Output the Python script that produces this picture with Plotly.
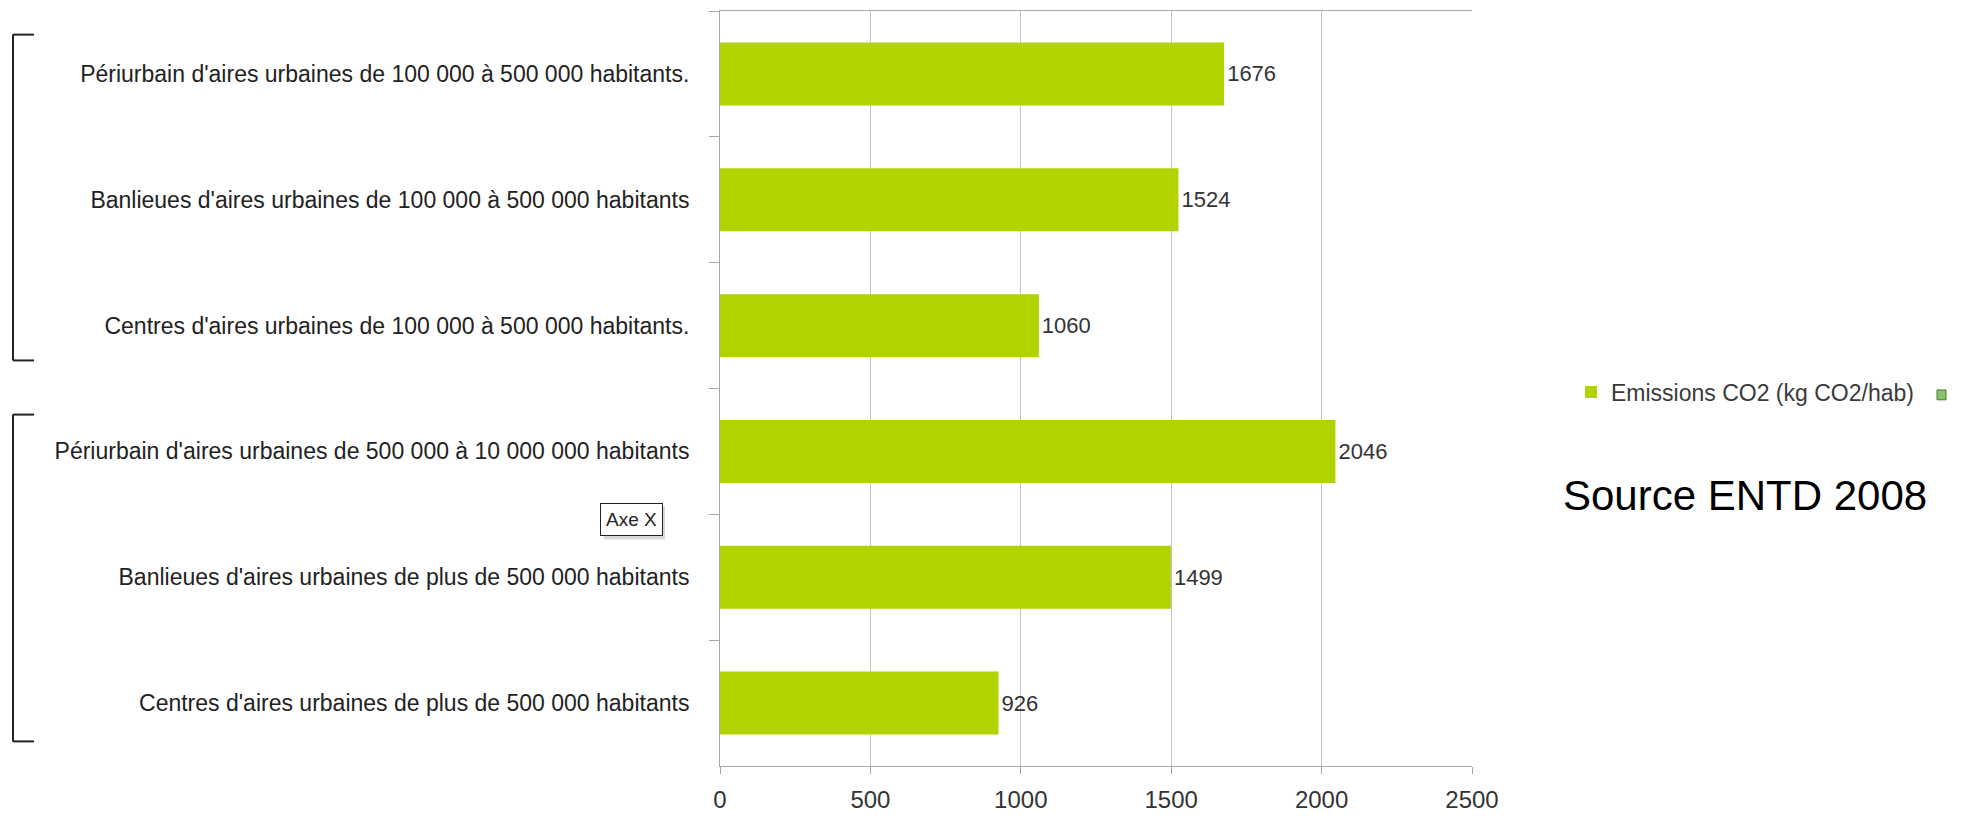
import plotly.graph_objects as go

categories = [
    "Périurbain d'aires urbaines de 100 000 à 500 000 habitants.",
    "Banlieues d'aires urbaines de 100 000 à 500 000 habitants",
    "Centres d'aires urbaines de 100 000 à 500 000 habitants.",
    "Périurbain d'aires urbaines de 500 000 à 10 000 000 habitants",
    "Banlieues d'aires urbaines de plus de 500 000 habitants",
    "Centres d'aires urbaines de plus de 500 000 habitants",
]
emissions = [1676, 1524, 1060, 2046, 1499, 926]
x_ticks = [0, 500, 1000, 1500, 2000, 2500]
series_name = "Emissions CO2 (kg CO2/hab)"
source_text = "Source ENTD 2008"

W, H = 1963, 823
L, R, T, B = 720, 491, 10, 46
pw = W - L - R
ph = H - T - B

def px_x(x):
    return (x - L) / pw

def px_y(y):
    return 1 - (y - T) / ph

fig = go.Figure()
fig.add_trace(go.Bar(
    x=emissions, y=categories, orientation="h",
    name=series_name,
    marker=dict(color="#b3d300", line=dict(width=0)),
    text=[str(v) for v in emissions], textposition="outside",
    textfont=dict(family="Liberation Sans", size=22, color="#333333"),
    cliponaxis=False,
))

shapes = []
# brackets on the left
for top, bot in [(34, 365), (420, 752)]:
    xl, xr = px_x(13), px_x(34)
    shapes.append(dict(type="line", xref="paper", yref="paper", x0=xl, x1=xl, y0=px_y(top), y1=px_y(bot),
                       line=dict(color="#222222", width=2)))
    shapes.append(dict(type="line", xref="paper", yref="paper", x0=xl, x1=xr, y0=px_y(top), y1=px_y(top),
                       line=dict(color="#222222", width=2)))
    shapes.append(dict(type="line", xref="paper", yref="paper", x0=xl, x1=xr, y0=px_y(bot), y1=px_y(bot),
                       line=dict(color="#222222", width=2)))
# cut-off second legend marker at right edge
shapes.append(dict(type="rect", xref="paper", yref="paper", x0=px_x(1937), x1=px_x(1946),
                   y0=px_y(405), y1=px_y(395), line=dict(color="#3f7f30", width=1), fillcolor="#8fbf6a"))
# shadow for "Axe X" box
shapes.append(dict(type="rect", xref="paper", yref="paper", x0=px_x(604), x1=px_x(665),
                   y0=px_y(547), y1=px_y(513), line=dict(width=0), fillcolor="rgba(0,0,0,0.15)"))

fig.update_layout(
    width=W, height=H,
    margin=dict(l=L, r=R, t=T, b=B),
    paper_bgcolor="white", plot_bgcolor="white",
    bargap=0.5,
    font=dict(family="Liberation Sans", color="#222222"),
    showlegend=True,
    legend=dict(x=px_x(1571), y=px_y(397), xanchor="left", yanchor="middle",
                font=dict(family="Liberation Sans", size=23, color="#3a3a3a"),
                bgcolor="rgba(0,0,0,0)", itemwidth=30),
    shapes=shapes,
    annotations=[
        dict(text=source_text, xref="paper", yref="paper", x=px_x(1561), y=px_y(502),
             xanchor="left", yanchor="middle", showarrow=False,
             font=dict(family="Liberation Sans", size=42, color="#000000")),
        dict(text="Axe X", xref="paper", yref="paper", x=px_x(631), y=px_y(527),
             xanchor="center", yanchor="middle", showarrow=False,
             font=dict(family="Liberation Sans", size=19, color="#222222"),
             bgcolor="white", bordercolor="#222222", borderwidth=1, borderpad=5),
    ],
    xaxis=dict(
        range=[0, 2500], tickvals=x_ticks, ticktext=[str(t) for t in x_ticks],
        showgrid=True, gridcolor="#c4c4c4", gridwidth=1,
        showline=True, linecolor="#a8a8a8", linewidth=1, mirror=True,
        ticks="outside", ticklen=7, tickcolor="#a8a8a8",
        tickfont=dict(family="Liberation Sans", size=24, color="#333333"),
        ticklabelstandoff=5,
        zeroline=False, fixedrange=True,
    ),
    yaxis=dict(
        autorange="reversed", type="category",
        showline=True, linecolor="#a8a8a8", linewidth=1,
        ticks="outside", ticklen=10, tickcolor="#a8a8a8", tickson="boundaries",
        tickfont=dict(family="Liberation Sans", size=23, color="#222222"),
        ticklabelstandoff=25,
        showgrid=False, fixedrange=True,
    ),
)

fig.write_html("out.html")
